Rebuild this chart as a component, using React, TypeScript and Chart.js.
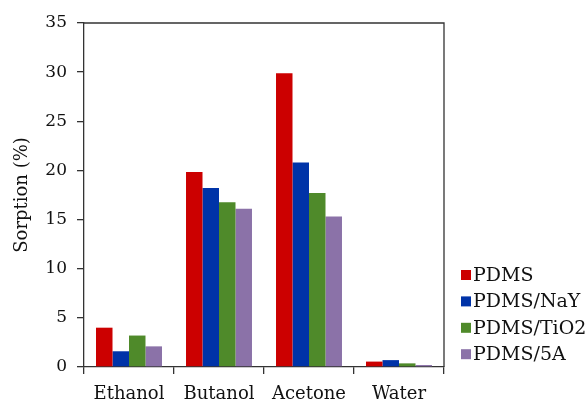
import React, { useEffect, useRef } from "react";
import { Chart, registerables } from "chart.js";

Chart.register(...registerables);

const categories = ["Ethanol", "Butanol", "Acetone", "Water"];
const seriesNames = ["PDMS", "PDMS/NaY", "PDMS/TiO2", "PDMS/5A"];
const pdms = [4.0, 19.85, 29.9, 0.55];
const pdmsNaY = [1.6, 18.2, 20.8, 0.7];
const pdmsTiO2 = [3.2, 16.75, 17.7, 0.37];
const pdms5A = [2.1, 16.1, 15.3, 0.2];
const seriesColors = ["#CC0000", "#0033A8", "#4F8A2A", "#8B72A8"];
const yTicks = [0, 5, 10, 15, 20, 25, 30, 35];

const FONT = "'DejaVu Serif', 'Liberation Serif', serif";
const AXIS = "#333333";

const frameAndLegend = {
  id: "frameAndLegend",
  afterDatasetsDraw(chart: any) {
    const { ctx, chartArea } = chart;
    ctx.save();
    ctx.strokeStyle = AXIS;
    ctx.lineWidth = 1.3;
    ctx.beginPath();
    ctx.moveTo(chartArea.left, chartArea.top);
    ctx.lineTo(chartArea.right, chartArea.top);
    ctx.lineTo(chartArea.right, chartArea.bottom);
    ctx.stroke();
    ctx.restore();
  },
  afterDraw(chart: any) {
    const { ctx, chartArea } = chart;
    const x0 = chartArea.right + 17;
    const yStart = 275;
    const step = 26.4;
    ctx.save();
    ctx.font = `19px ${FONT}`;
    ctx.textBaseline = "middle";
    ctx.textAlign = "left";
    chart.data.datasets.forEach((ds: any, i: number) => {
      const y = yStart + i * step;
      ctx.fillStyle = ds.backgroundColor;
      ctx.fillRect(x0, y - 5, 10, 10);
      ctx.fillStyle = "#111111";
      ctx.fillText(ds.label, x0 + 12, y + 1);
    });
    ctx.restore();
  },
};

export default function App() {
  const ref = useRef<HTMLCanvasElement | null>(null);
  useEffect(() => {
    if (!ref.current) return;
    const data = [pdms, pdmsNaY, pdmsTiO2, pdms5A];
    const chart = new Chart(ref.current, {
      type: "bar",
      data: {
        labels: categories,
        datasets: seriesNames.map((name, i) => ({
          label: name,
          data: data[i],
          backgroundColor: seriesColors[i],
          borderWidth: 0,
          categoryPercentage: 0.733,
          barPercentage: 1.0,
        })),
      },
      options: {
        animation: false,
        responsive: true,
        maintainAspectRatio: false,
        layout: { padding: { left: 0, top: 23, right: 141, bottom: 0 } },
        plugins: {
          legend: { display: false },
          tooltip: { enabled: false },
        },
        scales: {
          x: {
            offset: true,
            grid: {
              offset: true,
              drawOnChartArea: false,
              drawTicks: true,
              tickLength: 7,
              color: AXIS,
              lineWidth: 1.3,
            },
            border: { display: true, color: AXIS, width: 1.3 },
            ticks: {
              color: "#111111",
              font: { family: FONT, size: 18 },
              padding: 10,
              maxRotation: 0,
            },
            afterFit(scale: any) {
              scale.height = 36;
            },
          },
          y: {
            min: 0,
            max: 35,
            afterBuildTicks(scale: any) {
              scale.ticks = yTicks.map((v) => ({ value: v }));
            },
            grid: {
              drawOnChartArea: false,
              drawTicks: true,
              tickLength: 7,
              color: AXIS,
              lineWidth: 1.3,
            },
            border: { display: true, color: AXIS, width: 1.3 },
            ticks: {
              color: "#111111",
              font: { family: FONT, size: 17 },
              padding: 10,
            },
            title: {
              display: true,
              text: "Sorption (%)",
              color: "#111111",
              font: { family: FONT, size: 18 },
              padding: { top: 12, bottom: 0 },
            },
            afterFit(scale: any) {
              scale.width = 84;
            },
          },
        },
      },
      plugins: [frameAndLegend],
    });
    return () => chart.destroy();
  }, []);
  return (
    <div style={{ position: "fixed", left: 0, top: 0, width: 585, height: 403, background: "#fff" }}>
      <canvas ref={ref} />
    </div>
  );
}
